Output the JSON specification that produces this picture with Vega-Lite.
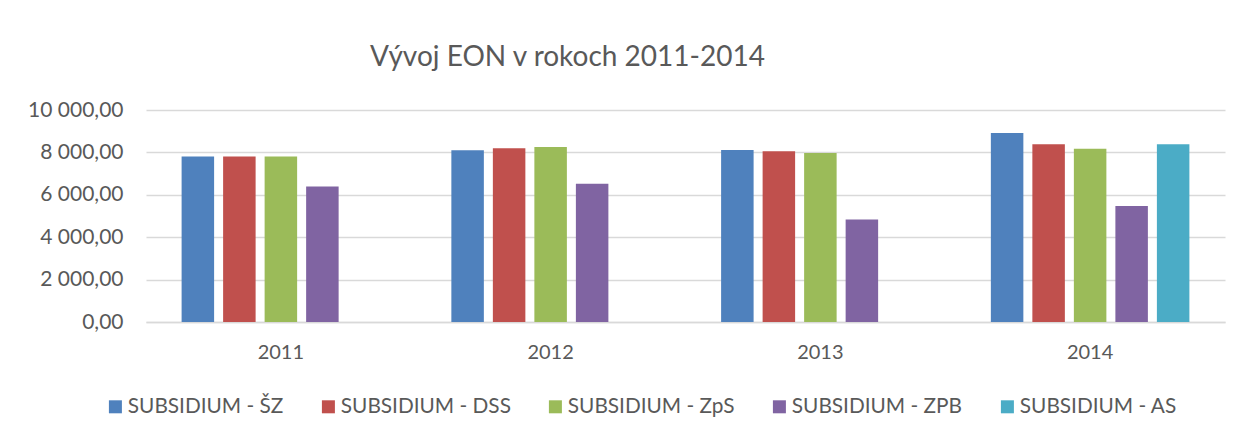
{
  "$schema": "https://vega.github.io/schema/vega-lite/v6.json",
  "autosize": {"type": "none"},
  "padding": {"left": 146, "top": 110, "right": 28, "bottom": 114},
  "width": 1079,
  "height": 212,
  "background": "white",
  "title": {
    "text": "Vývoj EON v rokoch 2011-2014",
    "anchor": "middle",
    "frame": "group",
    "dx": -118,
    "offset": 27,
    "font": "Lato",
    "fontSize": 28,
    "fontWeight": "normal",
    "color": "#595959"
  },
  "data": {
    "values": [
      {"year": "2011", "series": "SUBSIDIUM - ŠZ", "value": 7810},
      {"year": "2011", "series": "SUBSIDIUM - DSS", "value": 7810},
      {"year": "2011", "series": "SUBSIDIUM - ZpS", "value": 7810},
      {"year": "2011", "series": "SUBSIDIUM - ZPB", "value": 6395},
      {"year": "2012", "series": "SUBSIDIUM - ŠZ", "value": 8100},
      {"year": "2012", "series": "SUBSIDIUM - DSS", "value": 8200},
      {"year": "2012", "series": "SUBSIDIUM - ZpS", "value": 8250},
      {"year": "2012", "series": "SUBSIDIUM - ZPB", "value": 6520},
      {"year": "2013", "series": "SUBSIDIUM - ŠZ", "value": 8110},
      {"year": "2013", "series": "SUBSIDIUM - DSS", "value": 8060},
      {"year": "2013", "series": "SUBSIDIUM - ZpS", "value": 7970},
      {"year": "2013", "series": "SUBSIDIUM - ZPB", "value": 4840},
      {"year": "2014", "series": "SUBSIDIUM - ŠZ", "value": 8910},
      {"year": "2014", "series": "SUBSIDIUM - DSS", "value": 8390},
      {"year": "2014", "series": "SUBSIDIUM - ZpS", "value": 8170},
      {"year": "2014", "series": "SUBSIDIUM - ZPB", "value": 5470},
      {"year": "2014", "series": "SUBSIDIUM - AS", "value": 8390}
    ]
  },
  "mark": {"type": "bar"},
  "encoding": {
    "x": {
      "field": "year",
      "type": "nominal",
      "scale": {"paddingInner": 0.264, "paddingOuter": 0.132},
      "axis": {
        "title": null,
        "labelAngle": 0,
        "ticks": false,
        "domain": true,
        "domainColor": "#d9d9d9",
        "domainWidth": 1.3,
        "labelPadding": 20,
        "labelFont": "Lato",
        "labelFontSize": 20,
        "labelColor": "#595959"
      }
    },
    "xOffset": {
      "field": "series",
      "type": "nominal",
      "sort": ["SUBSIDIUM - ŠZ", "SUBSIDIUM - DSS", "SUBSIDIUM - ZpS", "SUBSIDIUM - ZPB", "SUBSIDIUM - AS"],
      "scale": {
        "domain": ["SUBSIDIUM - ŠZ", "SUBSIDIUM - DSS", "SUBSIDIUM - ZpS", "SUBSIDIUM - ZPB", "SUBSIDIUM - AS"],
        "paddingInner": 0.217,
        "paddingOuter": 0
      }
    },
    "y": {
      "field": "value",
      "type": "quantitative",
      "scale": {"domain": [0, 10000], "nice": false},
      "axis": {
        "title": null,
        "values": [0, 2000, 4000, 6000, 8000, 10000],
        "format": ",.2f",
        "ticks": false,
        "domain": false,
        "grid": true,
        "gridColor": "#d9d9d9",
        "gridWidth": 1.3,
        "labelPadding": 23,
        "labelFont": "Lato",
        "labelFontSize": 21,
        "labelColor": "#595959"
      }
    },
    "color": {
      "field": "series",
      "type": "nominal",
      "scale": {
        "domain": ["SUBSIDIUM - ŠZ", "SUBSIDIUM - DSS", "SUBSIDIUM - ZpS", "SUBSIDIUM - ZPB", "SUBSIDIUM - AS"],
        "range": ["#4F81BD", "#C0504D", "#9BBB59", "#8064A2", "#4BACC6"]
      },
      "legend": {
        "title": null,
        "orient": "none",
        "legendX": -41,
        "legendY": 286,
        "direction": "horizontal",
        "columns": 5,
        "columnPadding": 34,
        "symbolType": "square",
        "symbolSize": 169,
        "symbolStrokeWidth": 0,
        "labelOffset": 2,
        "labelFont": "Lato",
        "labelFontSize": 20.8,
        "labelColor": "#595959",
        "labelLimit": 400
      }
    }
  },
  "config": {
    "view": {"stroke": null},
    "locale": {
      "number": {"decimal": ",", "thousands": " ", "grouping": [3], "currency": ["", ""]}
    }
  }
}
